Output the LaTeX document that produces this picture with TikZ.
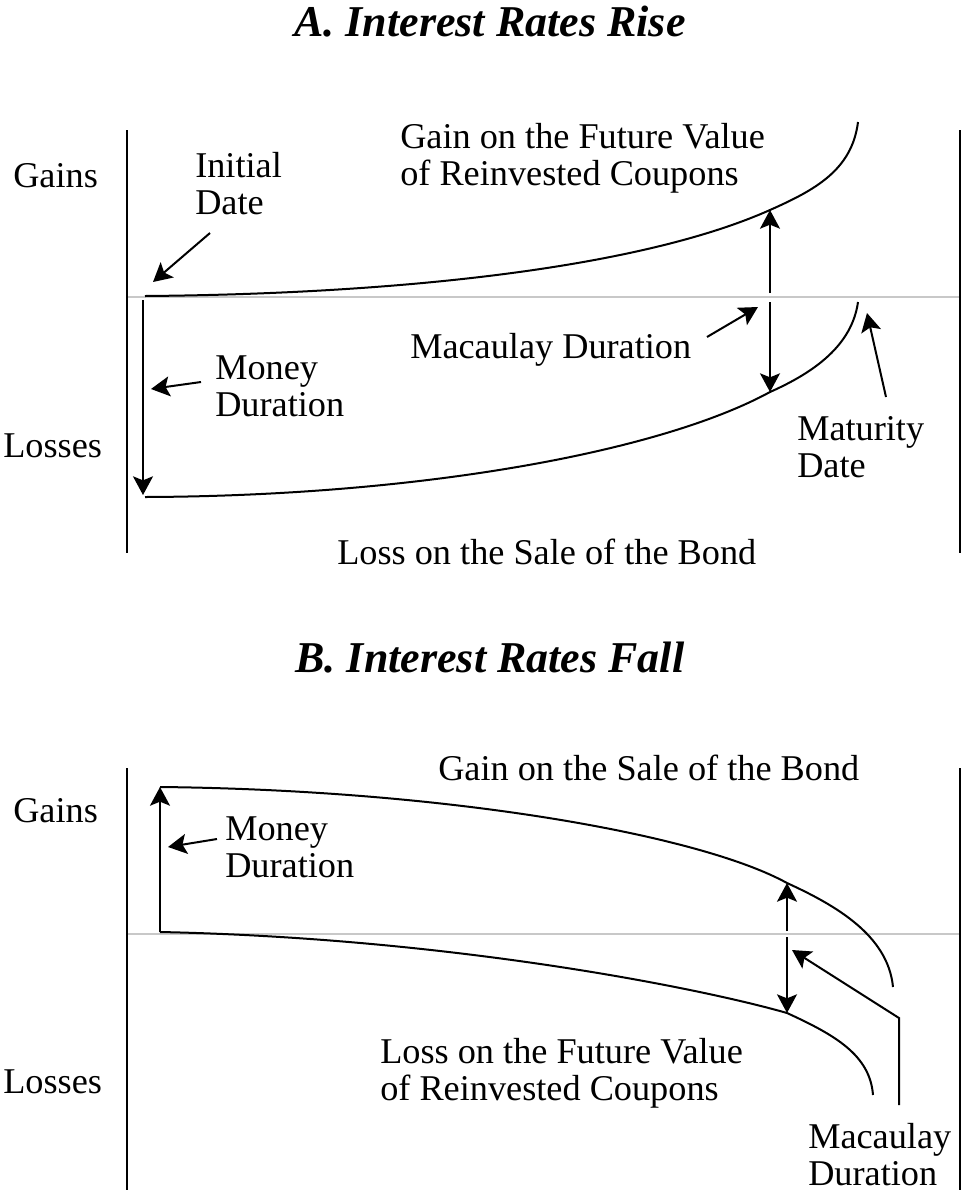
\documentclass[tikz,border=0pt]{standalone}
\usepackage{fontspec}
\setmainfont{Liberation Serif}
\usetikzlibrary{arrows.meta}
\definecolor{axisgray}{RGB}{200,200,200}
\tikzset{
  lbl/.style={font=\fontsize{27.2}{27.8}\selectfont, inner sep=0pt, align=left, anchor=west},
  ttl/.style={font=\fontsize{33}{36}\selectfont\bfseries\itshape, inner sep=0pt},
  panelline/.style={line width=1.5pt},
  zeroline/.style={line width=1.5pt, draw=axisgray},
  curve/.style={line width=1.5pt},
  ptr/.style={-{Stealth[length=14pt,width=15pt,inset=3pt]}, line width=1.5pt}
}

\begin{document}
\begin{tikzpicture}[x=0.75pt, y=-0.75pt]
  \useasboundingbox (0,0) rectangle (963,1197);

  % A. rates rise
  \node[ttl] (titleA) at (490,22) {A. Interest Rates Rise};
  \draw[zeroline] (127,297) -- (960,297);
  \draw[panelline] (127,130) -- (127,553);
  \draw[panelline] (960,130) -- (960,553);
  \node[lbl] (gainsA) at (13,176) {Gains};
  \node[lbl] (lossesA) at (3,446) {Losses};

  \coordinate (a0) at (145,296);
  \coordinate (a1) at (770,210);
  \coordinate (a2) at (858,122);
  \coordinate (b0) at (145,497);
  \coordinate (b1) at (770,392);
  \coordinate (b2) at (858,302);
  \draw[curve] (a0) .. controls (400,294) and (640,268) .. (a1)
    .. controls (815,190) and (852,170) .. (a2);
  \draw[curve] (b0) .. controls (420,496) and (660,452) .. (b1)
    .. controls (815,372) and (852,345) .. (b2);

  \node[lbl] (initdate) at (195,184) {Initial\\Date};
  \node[lbl] (couponsA) at (400,158) {Gain on the Future Value\\of Reinvested Coupons};
  \node[lbl] (macA) at (410,350) {Macaulay Duration};
  \node[lbl] (moneyA) at (215,386) {Money\\Duration};
  \node[lbl] (maturity) at (797,447) {Maturity\\Date};
  \node[lbl] (saleA) at (337,552) {Loss on the Sale of the Bond};

  \coordinate (mdA0) at (143,300);
  \coordinate (mdA1) at (143,495);
  \coordinate (macAup) at (770,293);
  \coordinate (macAdn) at (770,302);
  \draw[ptr] (mdA0) -- (mdA1);
  \draw[ptr] (macAup) -- (a1);
  \draw[ptr] (macAdn) -- (b1);

  \coordinate (initfrom) at (210,233);
  \coordinate (initto) at (153,282);
  \coordinate (moneyAfrom) at (201,382);
  \coordinate (moneyAto) at (151,389);
  \coordinate (macAfrom) at (707,337);
  \coordinate (macAto) at (758,307);
  \coordinate (matfrom) at (886,397);
  \coordinate (matto) at (867,313);
  \draw[ptr] (initfrom) -- (initto);
  \draw[ptr] (moneyAfrom) -- (moneyAto);
  \draw[ptr] (macAfrom) -- (macAto);
  \draw[ptr] (matfrom) -- (matto);

  % B. rates fall
  \node[ttl] (titleB) at (490,658) {B. Interest Rates Fall};
  \draw[zeroline] (127,934) -- (960,934);
  \draw[panelline] (127,768) -- (127,1190);
  \draw[panelline] (960,768) -- (960,1190);
  \node[lbl] (gainsB) at (13,811) {Gains};
  \node[lbl] (lossesB) at (3,1082) {Losses};

  \coordinate (c0) at (160,787);
  \coordinate (c1) at (787,883);
  \coordinate (c2) at (893,987);
  \coordinate (d0) at (160,932);
  \coordinate (d1) at (787,1013);
  \coordinate (d2) at (873,1095);
  \draw[curve] (c0) .. controls (450,790) and (700,835) .. (c1)
    .. controls (835,905) and (888,935) .. (c2);
  \draw[curve] (d0) .. controls (450,938) and (700,988) .. (d1)
    .. controls (835,1035) and (870,1055) .. (d2);

  \node[lbl] (saleB) at (438,768) {Gain on the Sale of the Bond};
  \node[lbl] (moneyB) at (225,847) {Money\\Duration};
  \node[lbl] (couponsB) at (380,1073) {Loss on the Future Value\\of Reinvested Coupons};
  \node[lbl] (macB) at (808,1155) {Macaulay\\Duration};

  \coordinate (macBup) at (787,931);
  \coordinate (macBdn) at (787,937);
  \draw[ptr] (d0) -- (c0);
  \draw[ptr] (macBup) -- (c1);
  \draw[ptr] (macBdn) -- (d1);

  \coordinate (moneyBfrom) at (217,839);
  \coordinate (moneyBto) at (168,847);
  \coordinate (macBfoot) at (899,1105);
  \coordinate (macBbend) at (899,1018);
  \coordinate (macBto) at (792,950);
  \draw[ptr] (moneyBfrom) -- (moneyBto);
  \draw[ptr] (macBfoot) -- (macBbend) -- (macBto);
\end{tikzpicture}
\end{document}
